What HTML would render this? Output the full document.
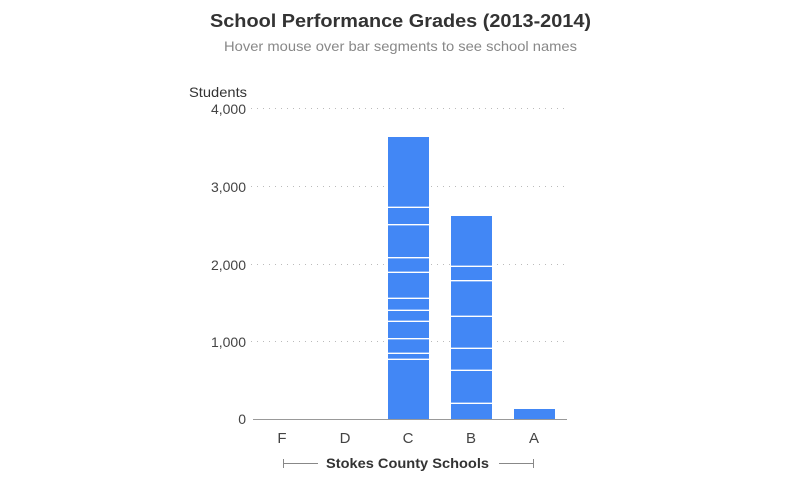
<!DOCTYPE html>
<html><head><meta charset="utf-8"><style>
html,body{margin:0;padding:0;background:#fff;width:800px;height:500px;overflow:hidden}
svg{display:block}
text{font-family:"Liberation Sans",sans-serif}
</style></head><body>
<svg width="800" height="500" viewBox="0 0 800 500">
<text x="210" y="27" font-size="18" font-weight="bold" fill="#333" textLength="381" lengthAdjust="spacingAndGlyphs">School Performance Grades (2013-2014)</text>
<text x="224" y="51" font-size="14" fill="#888" textLength="353" lengthAdjust="spacingAndGlyphs">Hover mouse over bar segments to see school names</text>
<g stroke="#bbb" stroke-width="1" stroke-dasharray="1,5">
<line x1="251" y1="108.5" x2="567" y2="108.5"/>
<line x1="251" y1="186.5" x2="567" y2="186.5"/>
<line x1="251" y1="264.5" x2="567" y2="264.5"/>
<line x1="251" y1="341.5" x2="567" y2="341.5"/>
</g>
<text x="189" y="97" font-size="14" fill="#333" textLength="58" lengthAdjust="spacingAndGlyphs">Students</text>
<g font-size="14" fill="#444" text-anchor="end">
<text x="246" y="114">4,000</text>
<text x="246" y="192">3,000</text>
<text x="246" y="270">2,000</text>
<text x="246" y="347">1,000</text>
<text x="246" y="424">0</text>
</g>
<g fill="#4287f5">
<rect x="388" y="137" width="41" height="282"/>
<rect x="451" y="216" width="41" height="203"/>
<rect x="514" y="409" width="41" height="10"/>
</g>
<g stroke="#fff" stroke-width="1.3">
<line x1="388" x2="429" y1="207.3" y2="207.3"/>
<line x1="388" x2="429" y1="224.7" y2="224.7"/>
<line x1="388" x2="429" y1="257.7" y2="257.7"/>
<line x1="388" x2="429" y1="272.3" y2="272.3"/>
<line x1="388" x2="429" y1="298.3" y2="298.3"/>
<line x1="388" x2="429" y1="310.3" y2="310.3"/>
<line x1="388" x2="429" y1="321.3" y2="321.3"/>
<line x1="388" x2="429" y1="338.7" y2="338.7"/>
<line x1="388" x2="429" y1="353.3" y2="353.3"/>
<line x1="388" x2="429" y1="359.3" y2="359.3"/>
<line x1="451" x2="492" y1="266.3" y2="266.3"/>
<line x1="451" x2="492" y1="280.7" y2="280.7"/>
<line x1="451" x2="492" y1="316.3" y2="316.3"/>
<line x1="451" x2="492" y1="348.3" y2="348.3"/>
<line x1="451" x2="492" y1="370.3" y2="370.3"/>
<line x1="451" x2="492" y1="403.3" y2="403.3"/>
</g>
<line x1="253" y1="419.5" x2="567" y2="419.5" stroke="#999" stroke-width="1"/>
<g font-size="15" fill="#444" text-anchor="middle">
<text x="282" y="443">F</text>
<text x="345" y="443">D</text>
<text x="408" y="443">C</text>
<text x="471" y="443">B</text>
<text x="534" y="443">A</text>
</g>
<g stroke="#888" stroke-width="1">
<line x1="283" y1="463.5" x2="318" y2="463.5"/>
<line x1="283.5" y1="459" x2="283.5" y2="468"/>
<line x1="499" y1="463.5" x2="534" y2="463.5"/>
<line x1="533.5" y1="459" x2="533.5" y2="468"/>
</g>
<text x="326" y="468" font-size="14" font-weight="bold" fill="#333" textLength="163" lengthAdjust="spacingAndGlyphs">Stokes County Schools</text>
</svg>
</body></html>
